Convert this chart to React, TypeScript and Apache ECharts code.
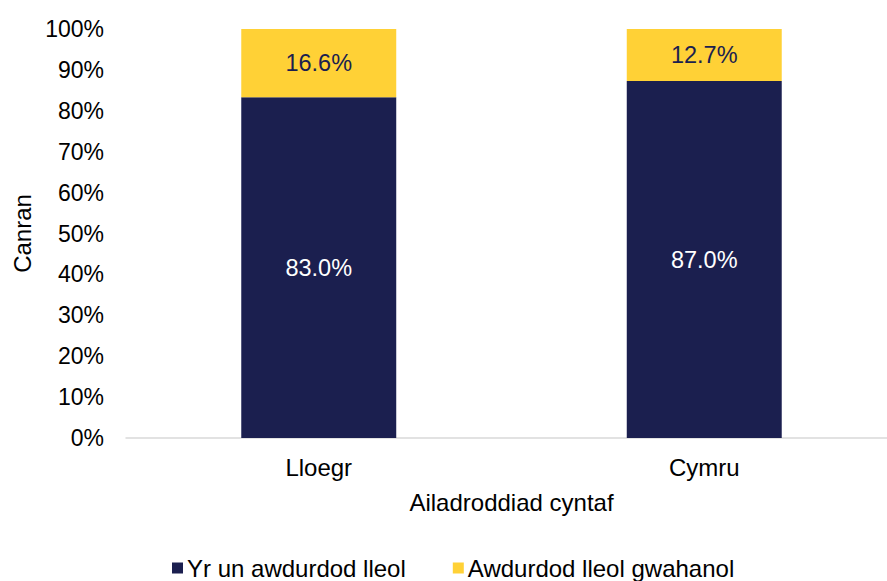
import React, { useEffect, useRef } from "react";
import * as echarts from "echarts";

const categories = ["Lloegr", "Cymru"];
const seriesNames = ["Yr un awdurdod lleol", "Awdurdod lleol gwahanol"];
const sameLA = [83.0, 87.0];
const differentLA = [16.6, 12.7];
const yTicks = [0, 10, 20, 30, 40, 50, 60, 70, 80, 90, 100];

const NAVY = "#1b1f4f";
const YELLOW = "#ffd136";
const FONT = "Liberation Sans, Arial, sans-serif";

export default function App() {
  const ref = useRef<HTMLDivElement>(null);
  useEffect(() => {
    document.body.style.margin = "0";
    if (!ref.current) return;
    const chart = echarts.init(ref.current, null, { renderer: "svg" });
    const totals = categories.map((_, i) => sameLA[i] + differentLA[i]);
    const norm = (arr: number[]) => arr.map((v, i) => (v / totals[i]) * 100);
    const raw = [sameLA, differentLA];
    chart.setOption({
      animation: false,
      textStyle: { fontFamily: FONT },
      grid: {
        left: 126,
        top: 29,
        width: 771,
        height: 409,
        containLabel: false,
        outerBoundsMode: "none",
      },
      legend: {
        top: 551,
        left: 167,
        itemWidth: 11,
        itemHeight: 11,
        itemGap: 47,
        icon: "rect",
        textStyle: { fontSize: 24, color: "#000", fontFamily: FONT, padding: [0, 0, 0, -1] },
        data: seriesNames,
      },
      xAxis: {
        type: "category",
        data: categories,
        name: "Ailadroddiad cyntaf",
        nameLocation: "middle",
        nameGap: 52,
        nameTextStyle: { fontSize: 24, color: "#000", fontFamily: FONT },
        axisLine: { lineStyle: { color: "#d9d9d9", width: 1.5 } },
        axisTick: { show: false },
        axisLabel: { fontSize: 24, color: "#000", margin: 17, fontFamily: FONT },
      },
      yAxis: {
        type: "value",
        min: 0,
        max: 100,
        interval: 10,
        name: "Canran",
        nameLocation: "middle",
        nameGap: 90,
        nameRotate: 90,
        nameTextStyle: { fontSize: 24, color: "#000", fontFamily: FONT },
        splitLine: { show: false },
        axisLine: { show: false },
        axisTick: { show: false },
        axisLabel: {
          fontSize: 23,
          color: "#000",
          margin: 22,
          fontFamily: FONT,
          formatter: (v: number) => (yTicks.includes(v) ? v + "%" : ""),
        },
      },
      series: [
        {
          name: seriesNames[0],
          type: "bar",
          stack: "total",
          barWidth: "40.2%",
          data: norm(sameLA),
          itemStyle: { color: NAVY },
          label: {
            show: true,
            position: "inside",
            color: "#fff",
            fontSize: 23.5,
            fontFamily: FONT,
            formatter: (p: any) => raw[0][p.dataIndex].toFixed(1) + "%",
          },
        },
        {
          name: seriesNames[1],
          type: "bar",
          stack: "total",
          barWidth: "40.2%",
          data: norm(differentLA),
          itemStyle: { color: YELLOW },
          label: {
            show: true,
            position: "inside",
            color: NAVY,
            fontSize: 23.5,
            fontFamily: FONT,
            formatter: (p: any) => raw[1][p.dataIndex].toFixed(1) + "%",
          },
        },
      ],
    });
    return () => chart.dispose();
  }, []);
  return <div ref={ref} style={{ width: 887, height: 581 }} />;
}
